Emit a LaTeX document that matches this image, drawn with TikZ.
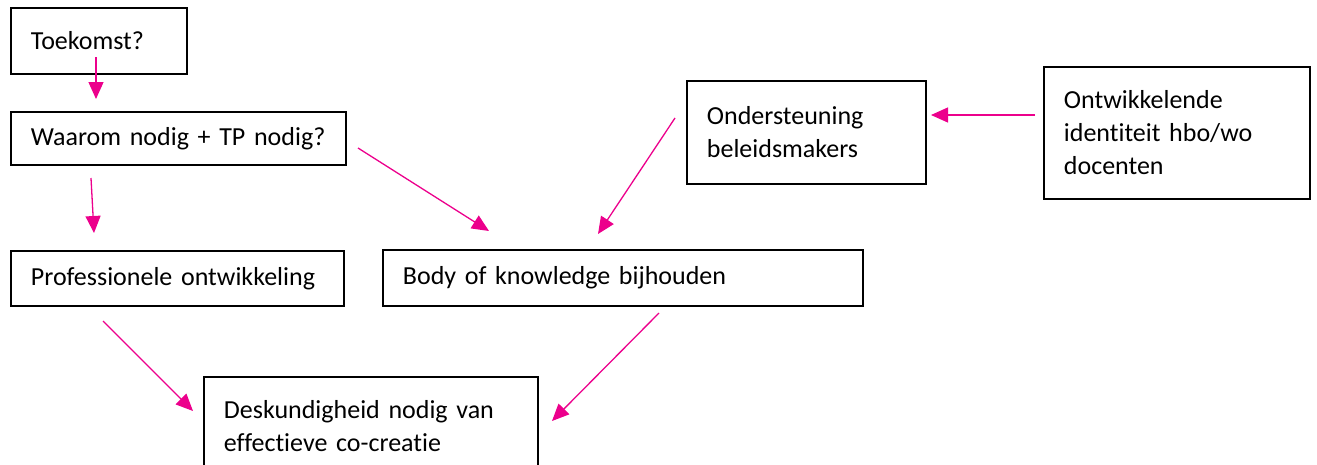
\documentclass[tikz,border=0pt]{standalone}
\usepackage{fontspec}
\setmainfont{Carlito}[Ligatures={NoCommon}]
\usetikzlibrary{arrows.meta}
\definecolor{pinkarrow}{RGB}{236,0,140}
\begin{document}
\begin{tikzpicture}[x=1pt,y=-1pt,
  box/.style={draw=black,line width=1.8pt,anchor=north west,inner xsep=20pt,inner ysep=0pt,
    align=left,font=\fontsize{26}{33}\selectfont},
  parrow/.style={draw=pinkarrow,line width=1.3pt,-{Triangle[length=17pt,width=15pt]}}]
\useasboundingbox (0,0) rectangle (1317,464);
\node[box,minimum width=176pt,minimum height=66pt,text width=136pt] (toek) at (10,7) {Toekomst?};
\node[box,minimum width=335pt,minimum height=53pt,text width=295pt] (waar) at (10,111) {Waarom nodig + TP nodig?};
\node[box,minimum width=333pt,minimum height=55pt,text width=293pt] (prof) at (10,250) {Professionele ontwikkeling};
\node[box,minimum width=480pt,minimum height=56pt,text width=440pt] (body) at (382,249) {Body of knowledge bijhouden};
\node[box,minimum width=239pt,minimum height=103pt,text width=199pt] (onder) at (686,80) {Ondersteuning\\beleidsmakers};
\node[box,minimum width=266pt,minimum height=132pt,text width=226pt] (ontw) at (1043,66) {Ontwikkelende\\identiteit hbo/wo\\docenten};
\node[box,minimum width=334pt,minimum height=98pt,text width=294pt] (desk) at (203,376) {Deskundigheid nodig van\\effectieve co-creatie};
\coordinate (a1s) at (96,57);   \coordinate (a1e) at (96,99);
\coordinate (a2s) at (91,178);  \coordinate (a2e) at (94,233);
\coordinate (a3s) at (358,148); \coordinate (a3e) at (489,231);
\coordinate (a4s) at (675,118); \coordinate (a4e) at (598,234);
\coordinate (a5s) at (1035,115);\coordinate (a5e) at (931,115);
\coordinate (a6s) at (103,321); \coordinate (a6e) at (193,411);
\coordinate (a7s) at (659,313); \coordinate (a7e) at (552,421);
\draw[parrow] (a1s) -- (a1e);
\draw[parrow] (a2s) -- (a2e);
\draw[parrow] (a3s) -- (a3e);
\draw[parrow] (a4s) -- (a4e);
\draw[parrow] (a5s) -- (a5e);
\draw[parrow] (a6s) -- (a6e);
\draw[parrow] (a7s) -- (a7e);
\end{tikzpicture}
\end{document}
